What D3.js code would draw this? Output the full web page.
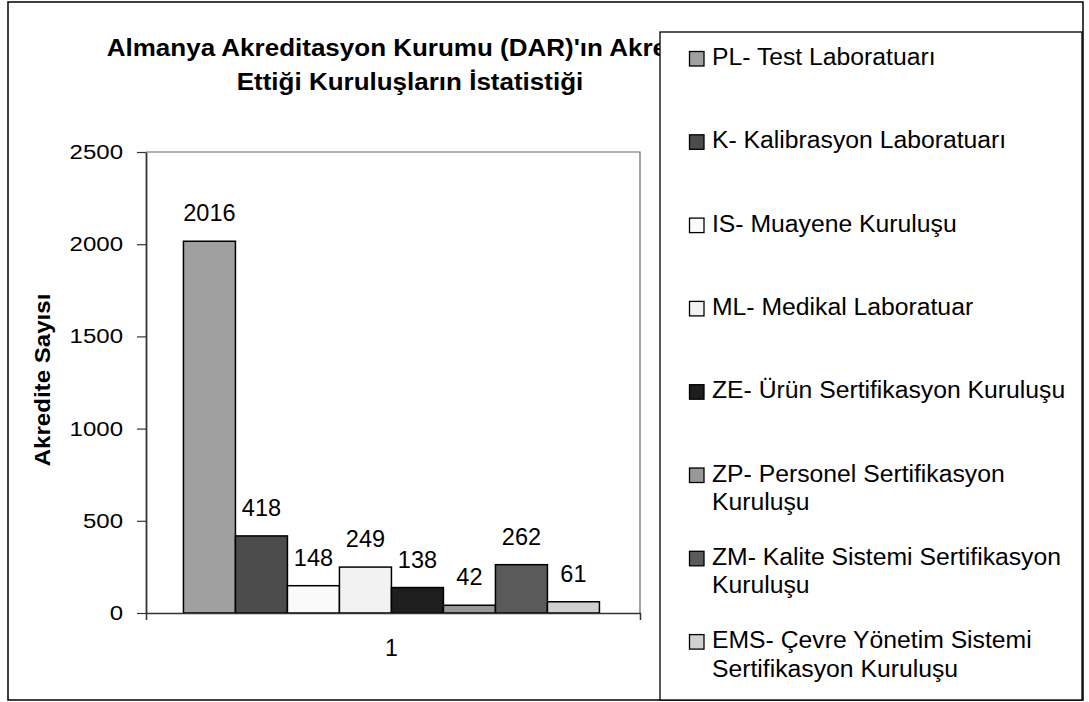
<!DOCTYPE html>
<html>
<head>
<meta charset="utf-8">
<script src="https://cdn.jsdelivr.net/npm/d3@7"></script>
<style>
  html, body { margin: 0; padding: 0; background: #fff; }
  svg { display: block; font-family: "Liberation Sans", Arial, sans-serif; }
</style>
</head>
<body>
<svg id="chart" width="1089" height="702"></svg>
<script>
// ---- data ----
const categories = ["1"];
const seriesNames = [
  "PL- Test Laboratuarı",
  "K- Kalibrasyon Laboratuarı",
  "IS- Muayene Kuruluşu",
  "ML- Medikal Laboratuar",
  "ZE- Ürün Sertifikasyon Kuruluşu",
  "ZP- Personel Sertifikasyon Kuruluşu",
  "ZM- Kalite Sistemi Sertifikasyon Kuruluşu",
  "EMS- Çevre Yönetim Sistemi Sertifikasyon Kuruluşu"
];
const legendLines = [
  ["PL- Test Laboratuarı"],
  ["K- Kalibrasyon Laboratuarı"],
  ["IS- Muayene Kuruluşu"],
  ["ML- Medikal Laboratuar"],
  ["ZE- Ürün Sertifikasyon Kuruluşu"],
  ["ZP- Personel Sertifikasyon", "Kuruluşu"],
  ["ZM- Kalite Sistemi Sertifikasyon", "Kuruluşu"],
  ["EMS- Çevre Yönetim Sistemi", "Sertifikasyon Kuruluşu"]
];
const values = [2016, 418, 148, 249, 138, 42, 262, 61];
const colors = ["#a0a0a0", "#4c4c4c", "#fafafa", "#f2f2f2", "#1e1e1e", "#989898", "#5a5a5a", "#d0d0d0"];
const yTicks = [0, 500, 1000, 1500, 2000, 2500];
const titleLines = ["Almanya Akreditasyon Kurumu (DAR)'ın Akredite", "Ettiği Kuruluşların İstatistiği"];
const yTitle = "Akredite Sayısı";

// helper: stretch text horizontally by a factor
function stretch(sel, factor) {
  sel.each(function() {
    const w = this.getComputedTextLength();
    d3.select(this).attr("textLength", w * factor).attr("lengthAdjust", "spacingAndGlyphs");
  });
}

// ---- layout ----
const svg = d3.select("#chart");
const plot = { left: 146, right: 640, top: 152, bottom: 613 };

// outer border
svg.append("rect")
  .attr("x", 8).attr("y", 2).attr("width", 1075).attr("height", 698)
  .attr("fill", "#fff").attr("stroke", "#000").attr("stroke-width", 1.5);

// title
const titleSel = svg.append("g").selectAll("text").data(titleLines).join("text")
  .attr("x", 410)
  .attr("y", (d, i) => 56 + i * 33.5)
  .attr("text-anchor", "middle")
  .attr("font-size", 23).attr("font-weight", "bold")
  .text(d => d);
stretch(titleSel, 1.13);

// scales
const x0 = d3.scaleBand().domain(categories).range([plot.left, plot.right])
  .paddingInner(0).paddingOuter(0.09375).align(0.48);
const x1 = d3.scaleBand().domain(d3.range(values.length)).range([0, x0.bandwidth()]);
const y = d3.scaleLinear().domain([0, 2500]).range([plot.bottom, plot.top]);

// plot area border (top and right)
svg.append("path")
  .attr("d", `M${plot.left},${plot.top}H${plot.right}V${plot.bottom}`)
  .attr("fill", "none").attr("stroke", "#666").attr("stroke-width", 1.2);

// bars
const gBars = svg.append("g").attr("transform", `translate(${x0("1")},0)`);
gBars.selectAll("rect").data(values).join("rect")
  .attr("x", (d, i) => x1(i))
  .attr("y", d => y(d))
  .attr("width", x1.bandwidth())
  .attr("height", d => y(0) - y(d))
  .attr("fill", (d, i) => colors[i])
  .attr("stroke", "#000").attr("stroke-width", 1.5);

// data labels
gBars.selectAll("text").data(values).join("text")
  .attr("x", (d, i) => x1(i) + x1.bandwidth() / 2)
  .attr("y", d => y(d) - 20)
  .attr("text-anchor", "middle")
  .attr("font-size", 23.5)
  .text(d => d);

// y axis
const yAxis = d3.axisLeft(y).tickValues(yTicks).tickSizeInner(9).tickSizeOuter(0).tickPadding(14)
  .tickFormat(d3.format("d"));
const gy = svg.append("g").attr("transform", `translate(${plot.left},0)`).call(yAxis);
gy.select(".domain").attr("stroke", "#333").attr("stroke-width", 1.8);
gy.selectAll(".tick line").attr("stroke", "#333").attr("stroke-width", 1.2);
const yTickText = gy.selectAll(".tick text").attr("font-size", 20)
  .attr("fill", "#000").attr("font-family", "Liberation Sans, Arial, sans-serif");
stretch(yTickText, 1.2);

// x axis
const xAxis = d3.axisBottom(x0).tickSizeInner(0).tickSizeOuter(7).tickPadding(27);
const gx = svg.append("g").attr("transform", `translate(0,${plot.bottom})`).call(xAxis);
gx.select(".domain").attr("stroke", "#333").attr("stroke-width", 1.5);
gx.selectAll(".tick text").attr("font-size", 23).attr("fill", "#000")
  .attr("font-family", "Liberation Sans, Arial, sans-serif");

// y axis title
const yTitleSel = svg.append("text")
  .attr("transform", "translate(50,380) rotate(-90)")
  .attr("text-anchor", "middle")
  .attr("font-size", 22.5).attr("font-weight", "bold")
  .text(yTitle);
stretch(yTitleSel, 1.07);

// legend
const legend = svg.append("g");
legend.append("rect")
  .attr("x", 660).attr("y", 32).attr("width", 422).attr("height", 668)
  .attr("fill", "#fff").attr("stroke", "#000").attr("stroke-width", 1.3);
const items = legend.selectAll("g.item").data(legendLines).join("g")
  .attr("class", "item")
  .attr("transform", (d, i) => `translate(0,${65 + i * 83.3})`);
items.append("rect")
  .attr("x", 689.5).attr("y", -13.5).attr("width", 14.5).attr("height", 14.5)
  .attr("fill", (d, i) => colors[i]).attr("stroke", "#000").attr("stroke-width", 1.3);
items.each(function(lines) {
  const t = d3.select(this).selectAll("text").data(lines).join("text")
    .attr("x", 712)
    .attr("y", (d, j) => j * 28.5)
    .attr("font-size", 23)
    .text(d => d);
  stretch(t, 1.075);
});
</script>
</body>
</html>
